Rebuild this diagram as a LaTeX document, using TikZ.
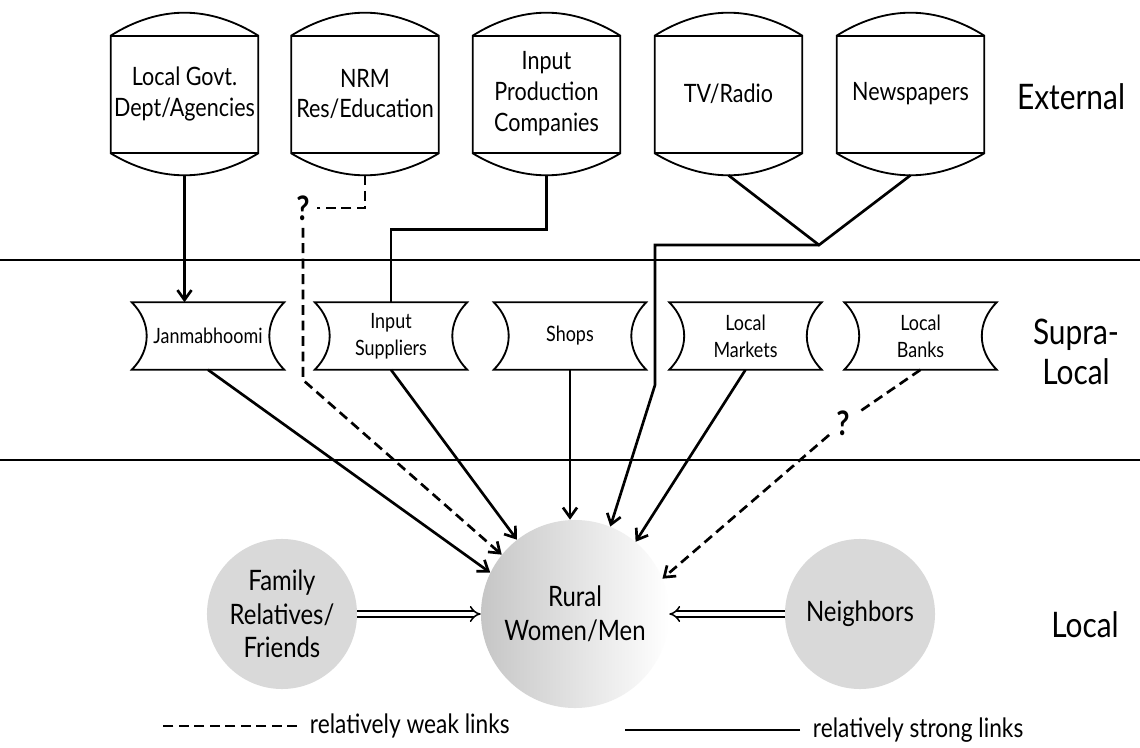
\documentclass[tikz,border=0pt]{standalone}
\usepackage{fontspec}
\setmainfont{Lato}[FakeStretch=0.85]
\usetikzlibrary{arrows.meta,calc}

\begin{document}
\begin{tikzpicture}[x=0.025cm,y=-0.025cm,
  drum/.style={minimum width=3.675cm,minimum height=4.05cm,align=center,inner sep=0pt,font=\fontsize{18}{22}\selectfont},
  scroll/.style={minimum width=3.8cm,minimum height=1.675cm,align=center,inner sep=0pt,font=\fontsize{15}{19}\selectfont},
  blob/.style={circle,fill=gray!30,align=center,inner sep=0pt,font=\fontsize{20}{24}\selectfont},
  tier/.style={align=center,font=\fontsize{25}{28}\selectfont},
  strong/.style={line width=1.9pt,-{Straight Barb[length=7pt,width=10pt]}},
  weak/.style={strong,dash pattern=on 7pt off 4pt},
  quest/.style={font=\bfseries\fontsize{24}{24}\selectfont,inner sep=5pt},
  dbl/.style={line width=1.1pt,double distance=2.8pt,-{Implies}},
  outline/.style={line width=1.3pt}]
  \fill[white] (0,0) rectangle (1140,748);
  \useasboundingbox (0,0) rectangle (1140,748);

  % levels
  \draw[line width=1.2pt] (0,260) -- (1140,260);
  \draw[line width=1.2pt] (0,460) -- (1140,460);
  \node[tier] (ext) at (1071,97) {External};
  \node[tier] (supra) at (1076,352) {Supra-\\Local};
  \node[tier] (loc) at (1085,625) {Local};

  % external sources
  \node[drum] (govt) at (184.5,94) {Local Govt.\\Dept/Agencies};
  \node[drum] (nrm) at (365,94) {NRM\\Res/Education};
  \node[drum] (inprod) at (546.5,94) {Input\\Production\\Companies};
  \node[drum] (tv) at (728.5,94) {TV/Radio};
  \node[drum] (news) at (910.5,94) {Newspapers};
  \foreach \n in {govt,nrm,inprod,tv,news}{
    \draw[outline] ($(\n.north west)+(0,23)$) parabola bend (\n.north) ($(\n.north east)+(0,23)$)
      -- ($(\n.south east)+(0,-22)$) parabola bend (\n.south) ($(\n.south west)+(0,-22)$) -- cycle;
    \draw[outline] ($(\n.north west)+(0,23)$) -- ($(\n.north east)+(0,23)$)
      ($(\n.south west)+(0,-22)$) -- ($(\n.south east)+(0,-22)$);
  }

  % supra-local
  \node[scroll] (jan) at (208,336) {Janmabhoomi};
  \node[scroll] (insup) at (391,336) {Input\\Suppliers};
  \node[scroll] (shops) at (570,336) {Shops};
  \node[scroll] (markets) at (745.5,336) {Local\\Markets};
  \node[scroll] (banks) at (920.5,336) {Local\\Banks};
  \foreach \n in {jan,insup,shops,markets,banks}
    \draw[outline] (\n.north west) -- (\n.north east)
      .. controls ($(\n.north east)+(-20,20)$) and ($(\n.south east)+(-20,-20)$) .. (\n.south east)
      -- (\n.south west)
      .. controls ($(\n.south west)+(20,-20)$) and ($(\n.north west)+(20,20)$) .. (\n.north west) -- cycle;

  % local
  \node[blob,minimum size=3.75cm] (family) at (282,614) {Family\\Relatives/\\Friends};
  \node[blob,minimum size=4.7cm,fill=none,left color=gray!45,right color=white] (rural) at (575,614) {Rural\\Women/Men};
  \node[blob,minimum size=3.75cm] (neigh) at (860,614) {Neighbors};

  \node[quest] (q1) at (303,208) {?};
  \node[quest] (q2) at (843,423) {?};
  \coordinate (nrmbend) at (303,380);
  \coordinate (tvjoin) at (819,245);
  \coordinate (tvcorner) at (655,245);
  \coordinate (tvbend) at (655,385);

  % links
  \draw[strong] (govt.south) -- (govt.south |- jan.north);
  \draw[line width=1.9pt] (inprod.south) -- ++(0,54) -| (insup.north);
  \draw[weak,-] (nrm.south) |- (q1);
  \draw[weak] (q1) -- (nrmbend) -- (rural.141);
  \draw[strong] (jan.south) -- (rural.154);
  \draw[strong] (insup.south) -- (rural.128);
  \draw[strong] (shops.south) -- (shops.south |- rural.north);
  \draw[line width=1.9pt] (tv.south) -- (tvjoin) -- (news.south);
  \draw[strong] (tvjoin) -- (tvcorner) -- (tvbend) -- (rural.68);
  \draw[strong] (markets.south) -- (rural.50);
  \draw[weak,-] (banks.south) -- (q2);
  \draw[weak] (q2) -- (rural.22);
  \draw[dbl] (family) -- (rural);
  \draw[dbl] (neigh) -- (rural);

  % key
  \node[anchor=west,font=\fontsize{19}{19}\selectfont] (weakkey) at (305,726) {relatively weak links};
  \draw[line width=1.9pt,dash pattern=on 7pt off 4pt] ($(weakkey.west)+(-8,0)$) -- ++(-135,0);
  \node[anchor=west,font=\fontsize{19}{19}\selectfont] (strongkey) at (808,730) {relatively strong links};
  \draw[line width=1.9pt] ($(strongkey.west)+(-8,0)$) -- ++(-175,0);
\end{tikzpicture}
\end{document}
